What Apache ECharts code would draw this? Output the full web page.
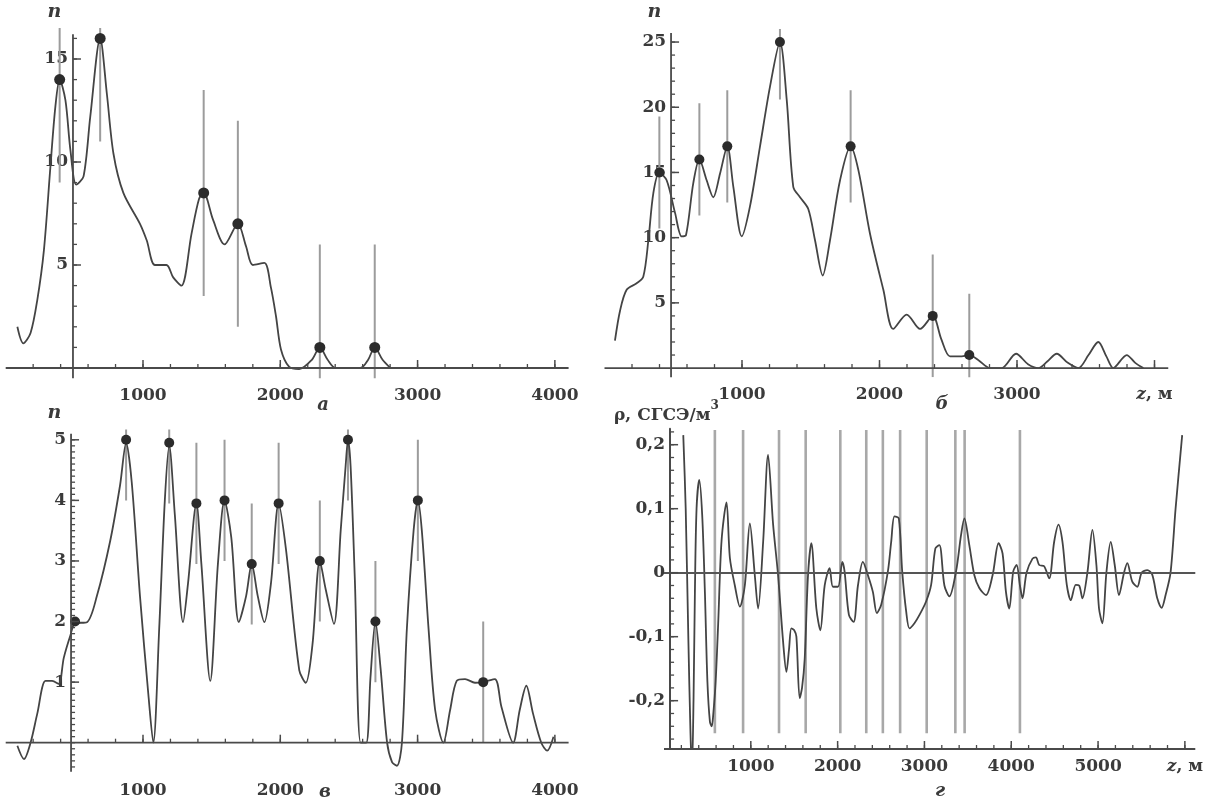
<!DOCTYPE html>
<html><head><meta charset="utf-8">
<script src="https://cdn.jsdelivr.net/npm/echarts@6/dist/echarts.min.js"></script>
<style>html,body{margin:0;padding:0;background:#fff}#c{width:1206px;height:799px}</style>
</head><body><div id="c"></div>
<script>
// ---------- Panel а ----------
const curveA = [[85,2.0],[128,1.2],[181,1.7],[230,3.3],[278,5.7],[326,9.8],[362,12.7],[393,14.0],[435,13.0],[471,10.6],[514,8.9],[567,9.3],[616,12.2],[688,16.0],[737,13.3],[785,10.4],[857,8.5],[978,7.0],[1027,6.2],[1087,5.0],[1171,5.0],[1220,4.4],[1280,4.0],[1353,6.5],[1408,8.2],[1442,8.5],[1510,7.2],[1594,6.0],[1691,7.0],[1751,5.9],[1800,5.0],[1884,5.1],[1932,3.9],[1969,2.5],[2005,0.9],[2065,0.05],[2138,-0.05],[2230,0.4],[2288,1.0],[2345,0.4],[2403,0],[2584,0],[2640,0.4],[2688,1.0],[2745,0.4],[2802,0]];
const dotsA = [[393,14],[688,16],[1442,8.5],[1691,7],[2288,1],[2688,1]];
const errA = [5,5,5,5,5,5];
// ---------- Panel б ----------
const curveB = [[76,2.1],[113,4.4],[161,6.0],[234,6.5],[282,7.0],[319,9.8],[355,13.4],[399,15.0],[452,14.4],[513,11.9],[561,10.1],[593,10.2],[646,14.2],[690,16.0],[743,14.4],[791,13.1],[840,14.9],[893,17.0],[937,13.9],[998,10.1],[1058,12.4],[1131,17.0],[1204,21.6],[1276,25.0],[1325,20.6],[1373,13.9],[1422,13.1],[1482,12.2],[1531,9.8],[1587,7.1],[1640,9.8],[1713,14.4],[1790,17.0],[1846,15.2],[1931,10.3],[2028,6.0],[2100,3.0],[2198,4.1],[2295,3.0],[2387,4.0],[2450,2.2],[2513,0.9],[2598,0.9],[2653,1.0],[2720,0.6],[2804,0],[2889,0],[2993,1.1],[3080,0.3],[3155,0],[3220,0.5],[3289,1.1],[3370,0.4],[3446,0],[3520,1.0],[3591,2.0],[3650,0.9],[3700,0],[3798,1.0],[3860,0.4],[3919,0]];
const dotsB = [[399,15],[690,16],[893,17],[1276,25],[1790,17],[2387,4],[2653,1]];
const errB = [4.3,4.3,4.3,4.4,4.3,4.7,4.7];
// ---------- Panel в ----------
const curveC = [[85,-0.05],[133,-0.27],[181,0],[230,0.48],[290,1.02],[338,1.02],[386,0.97],[423,1.4],[471,1.77],[505,1.97],[592,1.99],[664,2.42],[761,3.33],[833,4.25],[877,4.95],[918,4.3],[978,2.42],[1039,0.8],[1075,0],[1118,1.88],[1159,4.0],[1191,4.9],[1232,3.76],[1292,1.99],[1328,2.63],[1389,3.95],[1425,2.96],[1490,1.02],[1546,2.96],[1594,4.0],[1643,3.39],[1698,1.99],[1751,2.42],[1792,2.95],[1836,2.42],[1884,1.99],[1932,2.63],[1988,3.95],[2041,3.2],[2138,1.2],[2186,0.99],[2234,1.61],[2288,3.0],[2331,2.53],[2391,1.96],[2440,3.5],[2476,4.57],[2493,5.0],[2512,4.57],[2543,2.7],[2585,0],[2626,0],[2657,1.08],[2693,2.0],[2730,1.24],[2778,0],[2814,-0.32],[2850,-0.38],[2886,0],[2922,1.88],[2971,3.5],[3002,4.0],[3031,3.5],[3080,1.88],[3128,0.54],[3188,0],[3237,0.54],[3285,1.02],[3346,1.05],[3418,0.99],[3478,1.0],[3563,1.05],[3611,0.59],[3696,0],[3744,0.54],[3792,0.94],[3841,0.48],[3901,0],[3944,-0.13],[3990,0.1]];
const dotsC = [[505,2],[877,5],[1191,4.95],[1389,3.95],[1594,4],[1792,2.95],[1988,3.95],[2288,3],[2493,5],[2693,2],[3002,4],[3478,1]];
const errC = [0,1,1,1,1,1,1,1,1,1,1,1];
// ---------- Panel г ----------
const curveD = [[222,0.215],[250,0.10],[280,-0.10],[305,-0.25],[322,-0.31],[340,-0.20],[356,-0.03],[375,0.10],[406,0.145],[440,0.09],[471,-0.03],[500,-0.17],[529,-0.233],[550,-0.24],[567,-0.222],[595,-0.17],[624,-0.08],[663,0.05],[720,0.11],[759,0.023],[816,-0.02],[874,-0.053],[931,-0.02],[989,0.077],[1046,-0.004],[1084,-0.056],[1142,0.048],[1199,0.184],[1257,0.075],[1314,-0.004],[1372,-0.108],[1410,-0.155],[1440,-0.12],[1467,-0.087],[1500,-0.09],[1525,-0.10],[1563,-0.196],[1590,-0.18],[1621,-0.134],[1659,-0.004],[1697,0.046],[1755,-0.056],[1801,-0.09],[1851,-0.02],[1908,0.007],[1946,-0.022],[2004,-0.022],[2054,0.017],[2080,0.002],[2130,-0.066],[2184,-0.077],[2234,-0.02],[2291,0.017],[2349,-0.004],[2406,-0.03],[2452,-0.063],[2502,-0.05],[2579,0.002],[2617,0.048],[2655,0.088],[2705,0.085],[2744,0.002],[2790,-0.061],[2828,-0.087],[2885,-0.079],[2943,-0.066],[3019,-0.045],[3077,-0.019],[3126,0.038],[3172,0.043],[3230,-0.02],[3287,-0.037],[3364,0.002],[3422,0.059],[3460,0.085],[3517,0.043],[3575,-0.004],[3632,-0.024],[3709,-0.035],[3785,-0.004],[3854,0.046],[3900,0.03],[3939,-0.03],[3977,-0.056],[4023,0.002],[4062,0.012],[4100,-0.02],[4130,-0.04],[4176,0],[4245,0.022],[4284,0.024],[4322,0.012],[4379,0.01],[4437,-0.009],[4494,0.048],[4544,0.075],[4590,0.048],[4640,-0.019],[4686,-0.043],[4743,-0.019],[4782,-0.02],[4820,-0.04],[4877,0],[4935,0.067],[4981,0.012],[5011,-0.056],[5050,-0.079],[5096,0],[5146,0.048],[5192,0.012],[5241,-0.035],[5299,0],[5337,0.015],[5394,-0.014],[5452,-0.022],[5502,0],[5567,0.004],[5624,-0.003],[5682,-0.04],[5732,-0.055],[5778,-0.035],[5835,0],[5893,0.10],[5969,0.215]];
const markersD = [586,911,1325,1632,2031,2330,2521,2720,3026,3356,3463,4100];
const markerLowD = -0.251, markerHighD = 0.223;
// ---------- tick labels ----------
const xTicksABC = [1000,2000,3000,4000];
const xTicksD = [1000,2000,3000,4000,5000,6000];
const yTicksA = [5,10,15];
const yTicksB = [5,10,15,20,25];
const yTicksC = [1,2,3,4,5];
const yTicksD = [-0.2,-0.1,0,0.1,0.2];

function range(a,b,s){const r=[];for(let k=0;a+k*s<=b+1e-9;k++)r.push(Math.round((a+k*s)*1000)/1000);return r;}

const FONT='DejaVu Serif', AX='#4a4a4a', TXT='#3a3a3a';
const grids=[],xAxes=[],yAxes=[],series=[];
const rich={i:{fontStyle:'italic',fontWeight:'bold',fontFamily:FONT,fontSize:17,color:TXT}};

function addPanel(p){
  const gi=grids.length, xi=xAxes.length, yi=yAxes.length;
  grids.push({left:p.left,top:p.top,width:p.width,height:p.height});
  const yOffset=-(p.yCross-p.xMin)/(p.xMax-p.xMin)*p.width;
  xAxes.push({type:'value',gridIndex:gi,position:'bottom',min:p.xMin,max:p.xMax,splitLine:{show:false},
    axisLine:{show:false,onZero:p.xOnZero},axisTick:{show:false},
    axisLabel:{show:true,customValues:p.xMajor,formatter:p.xFmt,margin:9,fontFamily:FONT,fontWeight:'bold',fontSize:17,color:TXT,rich:rich}});
  yAxes.push({type:'value',gridIndex:gi,position:'left',offset:yOffset,min:p.yMin,max:p.yMax,splitLine:{show:false},
    axisLine:{show:!!p.nativeYLine,onZero:false,lineStyle:{color:AX,width:1.8}},axisTick:{show:false},
    axisLabel:{show:true,customValues:p.yMajor,formatter:p.yFmt,margin:5,fontFamily:FONT,fontWeight:'bold',fontSize:17,color:TXT}});
  // axis lines and ticks, drawn through the axes' scales (as thin filled rectangles)
  const base = p.xOnZero ? 0 : p.yMin;
  const segs=[];
  segs.push([p.xMin,base,p.xMax,base,0,0,1.8]);
  segs.push([p.yCross,p.yLineLow,p.yCross,p.yLineHigh,0,0,1.8]);
  p.xMajor.forEach(v=>segs.push([v,base,v,base,0,-8,1.5]));
  p.xMinor.forEach(v=>segs.push([v,base,v,base,0,-4,1.3]));
  p.yMajor.forEach(v=>segs.push([p.yCross,v,p.yCross,v,8,0,1.5]));
  p.yMinor.forEach(v=>segs.push([p.yCross,v,p.yCross,v,4,0,1.3]));
  series.push({type:'custom',xAxisIndex:xi,yAxisIndex:yi,clip:false,z:5,silent:true,data:segs,encode:{x:[0,2],y:[1,3]},
    renderItem:function(params,api){
      const a=api.coord([api.value(0),api.value(1)]);
      const dx=api.value(4), dy=api.value(5), w=api.value(6);
      const b=(dx||dy)?[a[0]+dx,a[1]+dy]:api.coord([api.value(2),api.value(3)]);
      let x=Math.min(a[0],b[0]), y=Math.min(a[1],b[1]), ww=Math.abs(b[0]-a[0]), hh=Math.abs(b[1]-a[1]);
      if(ww<hh){x-=w/2;ww=w;}else{y-=w/2;hh=w;}
      return {type:'rect',shape:{x:x,y:y,width:ww,height:hh},style:{fill:AX}};
    }});
  return {xi,yi};
}

function errSeries(ax,dots,err,color,width){
  return {type:'custom',xAxisIndex:ax.xi,yAxisIndex:ax.yi,clip:true,z:1,silent:true,
    data:dots.map((d,i)=>[d[0],d[1]-err[i],d[1]+err[i]]).filter((d,i)=>err[i]>0),
    encode:{x:0,y:[1,2]},
    renderItem:function(params,api){
      const a=api.coord([api.value(0),api.value(1)]), b=api.coord([api.value(0),api.value(2)]);
      return {type:'line',shape:{x1:a[0],y1:a[1],x2:b[0],y2:b[1]},style:{stroke:color,lineWidth:width}};
    }};
}
function curveSeries(ax,data){
  return {type:'line',xAxisIndex:ax.xi,yAxisIndex:ax.yi,data:data,showSymbol:false,smooth:0.3,
    clip:true,z:3,silent:true,lineStyle:{color:'#444',width:1.8}};
}
function dotSeries(ax,data,size){
  return {type:'scatter',xAxisIndex:ax.xi,yAxisIndex:ax.yi,data:data,symbolSize:size,z:4,silent:true,itemStyle:{color:'#2b2b2b',opacity:1}};
}
const str=v=>String(v);

// Panel а
const axA=addPanel({left:5.7,top:28.1,width:562.9,height:350.2,xMin:0,xMax:4100,yMin:-0.5,yMax:16.5,yCross:490,xOnZero:true,
  yLineLow:-0.5,yLineHigh:16.2,
  xMajor:xTicksABC,xMinor:range(200,4000,200),yMajor:yTicksA,yMinor:range(1,16,1),xFmt:str,yFmt:str});
series.push(errSeries(axA,dotsA,errA,'#9c9c9c',2),curveSeries(axA,curveA),dotSeries(axA,dotsA,11));
// Panel б
const axB=addPanel({left:604.5,top:29,width:563.75,height:348.2,xMin:0,xMax:4100,yMin:-0.7,yMax:26,yCross:484,xOnZero:true,
  yLineLow:-0.7,yLineHigh:25.7,
  xMajor:xTicksABC,xMinor:range(200,4000,200),yMajor:yTicksB,yMinor:range(1,25,1),
  xFmt:v=>v===4000?'{i|z}, м':String(v),yFmt:str});
series.push(errSeries(axB,dotsB,errB,'#9c9c9c',2),curveSeries(axB,curveB),dotSeries(axB,dotsB,10));
// Panel в
const axC=addPanel({left:5.7,top:429.5,width:562.9,height:351.5,xMin:0,xMax:4100,yMin:-0.5,yMax:5.17,yCross:476,xOnZero:true,
  yLineLow:-0.48,yLineHigh:5.1,
  xMajor:xTicksABC,xMinor:range(200,4000,200),yMajor:yTicksC,yMinor:range(-0.4,5,0.1),xFmt:str,yFmt:str});
series.push(errSeries(axC,dotsC,errC,'#9c9c9c',2),curveSeries(axC,curveC),dotSeries(axC,dotsC,10));
// Panel г
const axD=addPanel({left:664,top:428.7,width:532.4,height:320.3,xMin:0,xMax:6120,yMin:-0.2755,yMax:0.225,yCross:70,xOnZero:false,nativeYLine:true,
  yLineLow:-0.2755,yLineHigh:0.22,
  xMajor:xTicksD,xMinor:range(200,6000,200),yMajor:yTicksD,yMinor:range(-0.26,0.22,0.02),
  xFmt:v=>v===6000?'{i|z}, м':String(v),yFmt:v=>v===0?'0':v.toFixed(1).replace('.',',')});
series.push(errSeries(axD,markersD.map(x=>[x,(markerLowD+markerHighD)/2]),markersD.map(()=>(markerHighD-markerLowD)/2),'#a8a8a8',2.6));
const cD=curveSeries(axD,curveD);
cD.markLine={silent:true,symbol:'none',label:{show:false},lineStyle:{color:'#555',width:2,type:'solid'},
  data:[{yAxis:0},{xAxis:70,lineStyle:{color:AX,width:1.8}}]};
series.push(cD);

const lettersStyle={fontFamily:FONT,fontStyle:'italic',fontWeight:'bold',fontSize:18,fill:TXT,textAlign:'center',textVerticalAlign:'middle'};
const nStyle={fontFamily:FONT,fontStyle:'italic',fontWeight:'bold',fontSize:19,fill:TXT,textAlign:'center',textVerticalAlign:'middle'};
const graphic=[
  {type:'text',x:54.5,y:12,style:Object.assign({text:'n'},nStyle)},
  {type:'text',x:654.5,y:12,style:Object.assign({text:'n'},nStyle)},
  {type:'text',x:54.5,y:413,style:Object.assign({text:'n'},nStyle)},
  {type:'text',x:323,y:405,style:Object.assign({text:'а'},lettersStyle)},
  {type:'text',x:942,y:404,style:Object.assign({text:'б'},lettersStyle)},
  {type:'text',x:325,y:792,style:Object.assign({text:'в'},lettersStyle)},
  {type:'text',x:940,y:791,style:Object.assign({text:'г'},lettersStyle)},
  {type:'text',x:614,y:412,style:{text:'{a|ρ, СГСЭ/м}{s|3}',textAlign:'left',textVerticalAlign:'middle',
    rich:{a:{fontFamily:FONT,fontWeight:'bold',fontSize:17,fill:TXT,color:TXT,verticalAlign:'bottom',lineHeight:24},
          s:{fontFamily:FONT,fontWeight:'bold',fontSize:12,fill:TXT,color:TXT,verticalAlign:'top',lineHeight:24}}}}
];

const chart=echarts.init(document.getElementById('c'));
chart.setOption({animation:false,backgroundColor:'#fff',grid:grids,xAxis:xAxes,yAxis:yAxes,series:series,graphic:graphic});
</script></body></html>
